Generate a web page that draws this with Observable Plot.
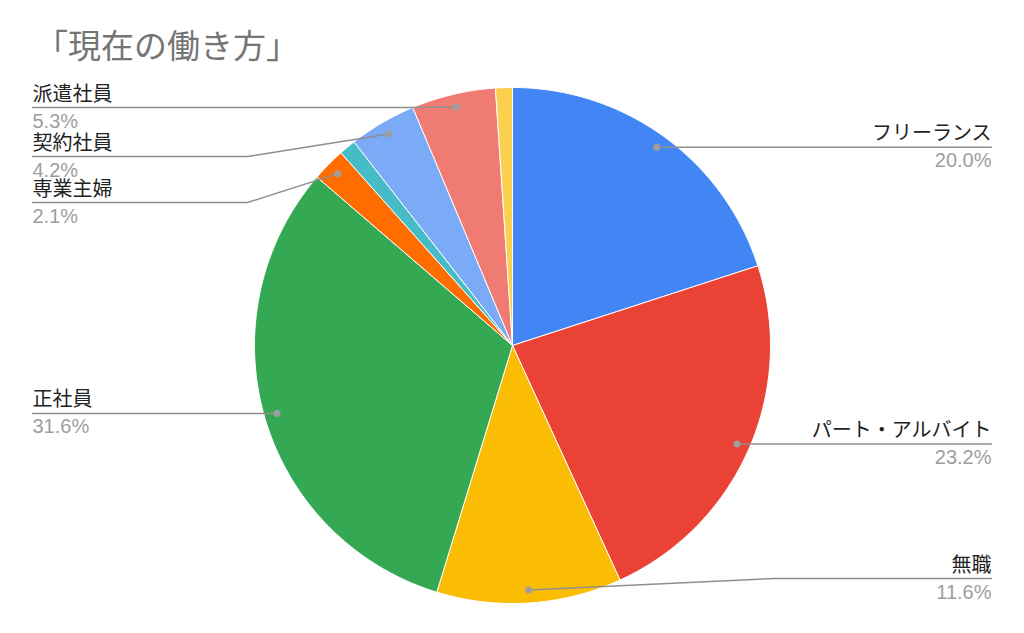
<!DOCTYPE html>
<html>
<head>
<meta charset="utf-8">
<script src="https://cdn.jsdelivr.net/npm/d3@7"></script>
<script src="https://cdn.jsdelivr.net/npm/@observablehq/plot@0.6"></script>
<style>
  html, body { margin: 0; padding: 0; background: #fff; }
  #title {
    height: 72px; box-sizing: border-box; padding: 28px 0 0 35px;
    font-family: "Liberation Sans", "Noto Sans CJK JP", sans-serif;
    font-size: 33px; line-height: 38px; color: #757575;
  }
  #chart svg { display: block; }
</style>
</head>
<body>
<div id="title">「現在の働き方」</div>
<div id="chart"></div>
<script>
// ---- data ----
const categories = ["フリーランス", "パート・アルバイト", "無職", "正社員", "専業主婦", "学生", "契約社員", "派遣社員", "その他"];
const counts = [19, 22, 11, 30, 2, 1, 4, 5, 1];
const colors = ["#4285F4", "#EA4335", "#FBBC04", "#34A853", "#FF6D01", "#46BDC6", "#7BAAF7", "#F07B72", "#FCD04F"];
const labeled = ["フリーランス", "パート・アルバイト", "無職", "正社員", "専業主婦", "契約社員", "派遣社員"];

// ---- layout (pixels) ----
const W = 1024, H = 561, TOP = 72;
const R = 258, CX = 512, CY = 345 - TOP;
const toX = px => (px - CX) / R;
const toY = pageY => (CY - (pageY - TOP)) / R;
const leader = {
  "フリーランス": {side: "right"},
  "パート・アルバイト": {side: "right"},
  "無職": {side: "right", elbow: [773, 578]},
  "正社員": {side: "left"},
  "専業主婦": {side: "left", elbow: [247, 202]},
  "契約社員": {side: "left", elbow: [247, 156]},
  "派遣社員": {side: "left", elbow: [413, 107]}
};
const RIGHT_X = 991, LEFT_X = 32;

const total = d3.sum(counts);
const table = categories.map((c, i) => ({name: c, value: counts[i]}));
const arcs = d3.pie().sort(null).value(d => d.value)(table);

// slice outlines sampled along the arc
const slicePts = [];
arcs.forEach(a => {
  const n = Math.max(2, Math.ceil((a.endAngle - a.startAngle) / (Math.PI / 360)));
  slicePts.push({name: a.data.name, x: 0, y: 0});
  for (let k = 0; k <= n; k++) {
    const t = a.startAngle + (a.endAngle - a.startAngle) * k / n;
    slicePts.push({name: a.data.name, x: Math.sin(t), y: Math.cos(t)});
  }
  slicePts.push({name: a.data.name, x: 0, y: 0});
});

// leader lines & labels
const linePts = [], dots = [], texts = [];
arcs.forEach(a => {
  const name = a.data.name;
  if (!labeled.includes(name)) return;
  const m = (a.startAngle + a.endAngle) / 2;
  const dx = 0.95 * Math.sin(m), dy = 0.95 * Math.cos(m);
  const L = leader[name];
  dots.push({x: dx, y: dy});
  linePts.push({name, x: dx, y: dy});
  let ly = dy;
  if (L.elbow) {
    linePts.push({name, x: toX(L.elbow[0]), y: toY(L.elbow[1])});
    ly = toY(L.elbow[1]);
  }
  const ex = L.side === "right" ? toX(RIGHT_X) : toX(LEFT_X);
  linePts.push({name, x: ex, y: ly});
  texts.push({name, x: ex, y: ly, side: L.side,
    pct: (a.data.value / total * 100).toFixed(1) + "%"});
});
const rightT = texts.filter(d => d.side === "right");
const leftT = texts.filter(d => d.side === "left");

const font = '"Liberation Sans", Arial, "Noto Sans CJK JP", sans-serif';
const FS = 20;
const plot = Plot.plot({
  width: W, height: H,
  margin: 0,
  x: {domain: [toX(0), toX(W)], range: [0, W], axis: null},
  y: {domain: [toY(TOP + H), toY(TOP)], range: [H, 0], axis: null},
  color: {domain: categories, range: colors},
  style: {fontFamily: font, background: "#fff"},
  marks: [
    Plot.line(slicePts, {x: "x", y: "y", z: "name", fill: "name", stroke: "#fff", strokeWidth: 1, curve: "linear"}),
    Plot.line(linePts, {x: "x", y: "y", z: "name", stroke: "#8f8f8f", strokeWidth: 1.5}),
    Plot.dot(dots, {x: "x", y: "y", r: 3.5, fill: "#9e9e9e", stroke: "none"}),
    Plot.text(rightT, {x: "x", y: "y", text: "name", lineAnchor: "bottom", dy: -7, textAnchor: "end", fill: "#222", fontSize: FS}),
    Plot.text(leftT, {x: "x", y: "y", text: "name", lineAnchor: "bottom", dy: -7, textAnchor: "start", fill: "#222", fontSize: FS}),
    Plot.text(rightT, {x: "x", y: "y", text: "pct", lineAnchor: "bottom", dy: 20, textAnchor: "end", fill: "#9e9e9e", fontSize: FS}),
    Plot.text(leftT, {x: "x", y: "y", text: "pct", lineAnchor: "bottom", dy: 20, textAnchor: "start", fill: "#9e9e9e", fontSize: FS})
  ]
});
document.getElementById("chart").appendChild(plot);
</script>
</body>
</html>
